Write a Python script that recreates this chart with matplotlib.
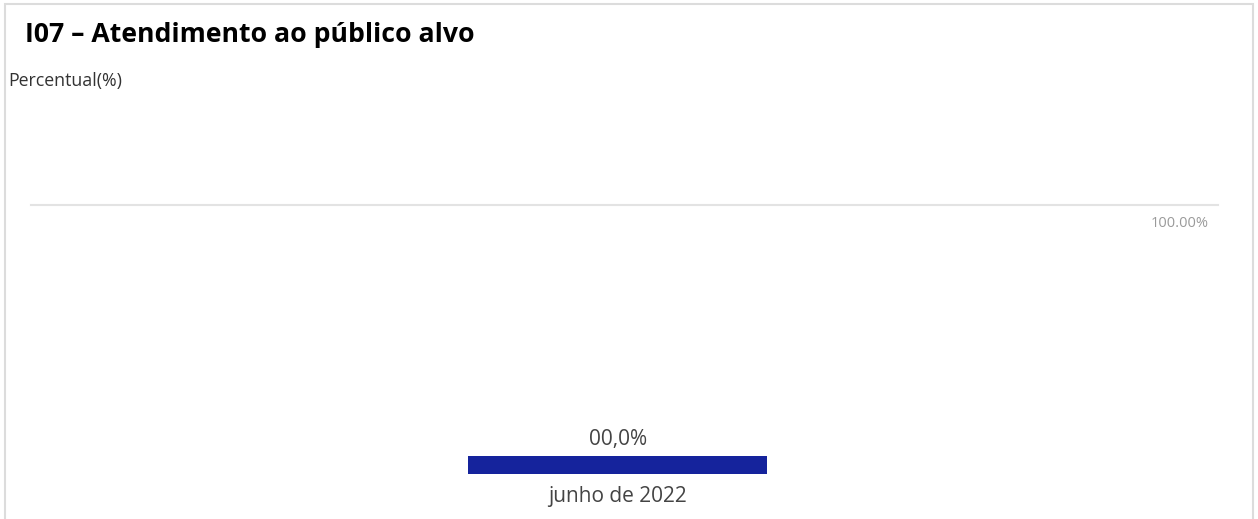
import matplotlib.pyplot as plt
from matplotlib.patches import Rectangle

# Data
categories = ["junho de 2022"]
values = [0.0]          # percentual atendido
meta = 100.0            # linha de referencia (100%)

W, H = 1258, 519
fig = plt.figure(figsize=(W / 100, H / 100), dpi=100)
fig.patch.set_facecolor("white")

# light card border (open at the bottom)
fig.add_artist(Rectangle((4.5 / W, -0.1), (1253 - 4.5) / W, 1.1 - 4.5 / H,
                         transform=fig.transFigure, fill=False,
                         edgecolor="#dcdcdc", linewidth=1.5))

# title and axis caption
fig.text(25 / W, 1 - 35 / H, "I07 – Atendimento ao público alvo",
         fontsize=19.2, fontweight="bold", family="Open Sans",
         color="black", va="center", ha="left")
fig.text(8 / W, 1 - 81 / H, "Percentual(%)", fontsize=12.8,
         family="Open Sans", color="#333333", va="center", ha="left")

# plotting area: bottom = 0, top = meta line
left, right, bottom, top = 31, 1218, 474, 205
ax = fig.add_axes([left / W, 1 - bottom / H, (right - left) / W, (bottom - top) / H])
ax.set_xlim(-1.962, 2.008)
ax.set_ylim(0, meta)
ax.axis("off")

min_bar = 6.7  # minimum visible height for a zero bar
x = list(range(len(categories)))
heights = [max(v, min_bar) for v in values]
ax.bar(x, heights, width=1.0, color="#15239C", align="center")

ax.axhline(meta, color="#e3e3e3", linewidth=1.5, clip_on=False)
ax.text(2.008 - 0.03, meta - 7, "100.00%", fontsize=10.5, color="#9a9a9a",
        ha="right", va="center", family="Open Sans")

for xi, v, hgt, cat in zip(x, values, heights, categories):
    lbl = f"{v:04.1f}%".replace(".", ",")
    ax.text(xi, hgt + 6, lbl, ha="center", va="center", fontsize=15,
            color="#444444", family="Open Sans")
    ax.text(xi, -8.5, cat, ha="center", va="center", fontsize=15,
            color="#444444", family="Open Sans", clip_on=False)

fig.savefig("out.png", dpi=100, facecolor="white")
